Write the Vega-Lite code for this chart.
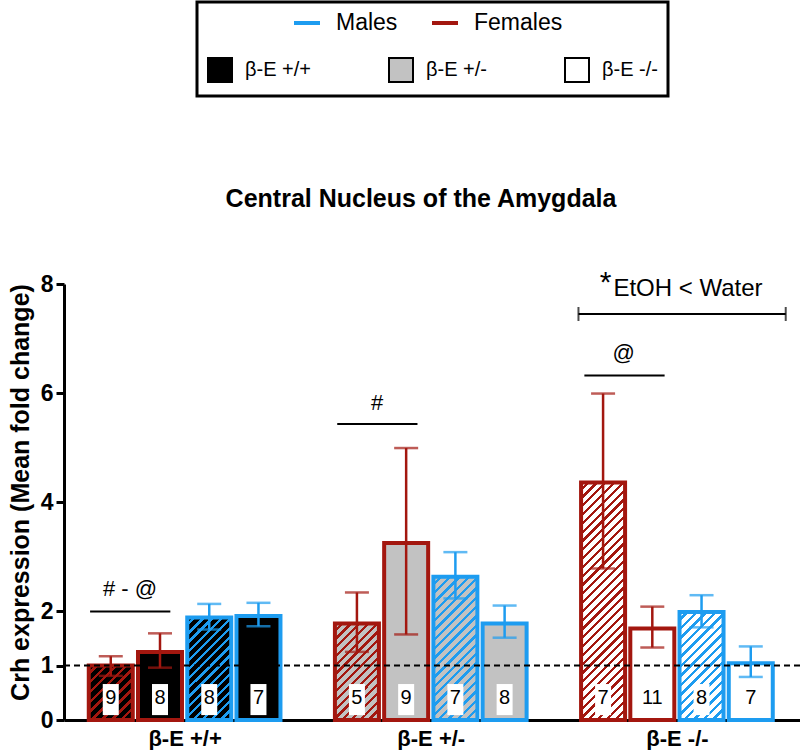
{
"$schema":"https://vega.github.io/schema/vega-lite/v6.json",
"width":736,"height":436,
"autosize":"none",
"padding":{"left":64,"top":284,"right":0,"bottom":30},
"title":{"text":"Central Nucleus of the Amygdala","fontSize":25,"fontWeight":"bold","color":"black","anchor":"middle","frame":"group","dx":-11,"baseline":"alphabetic","offset":-231},
"config":{"font":"Liberation Sans","view":{"stroke":null},"axis":{"grid":false}},
"datasets":{
"bars":[
{"geno":"β-E +/+","sex":"Females","trt":"EtOH","id":"A","pos":1,"mean":1.00,"lo":0.81,"hi":1.17,"n":9},
{"geno":"β-E +/+","sex":"Females","trt":"Water","id":"a","pos":2,"mean":1.25,"lo":0.96,"hi":1.59,"n":8},
{"geno":"β-E +/+","sex":"Males","trt":"EtOH","id":"B","pos":3,"mean":1.88,"lo":1.66,"hi":2.13,"n":8},
{"geno":"β-E +/+","sex":"Males","trt":"Water","id":"b","pos":4,"mean":1.91,"lo":1.72,"hi":2.15,"n":7},
{"geno":"β-E +/-","sex":"Females","trt":"EtOH","id":"C","pos":6,"mean":1.77,"lo":1.25,"hi":2.34,"n":5},
{"geno":"β-E +/-","sex":"Females","trt":"Water","id":"c","pos":7,"mean":3.25,"lo":1.57,"hi":4.99,"n":9},
{"geno":"β-E +/-","sex":"Males","trt":"EtOH","id":"D","pos":8,"mean":2.63,"lo":2.23,"hi":3.08,"n":7},
{"geno":"β-E +/-","sex":"Males","trt":"Water","id":"d","pos":9,"mean":1.77,"lo":1.51,"hi":2.10,"n":8},
{"geno":"β-E -/-","sex":"Females","trt":"EtOH","id":"E","pos":11,"mean":4.36,"lo":2.78,"hi":5.99,"n":7},
{"geno":"β-E -/-","sex":"Females","trt":"Water","id":"e","pos":12,"mean":1.68,"lo":1.33,"hi":2.08,"n":11},
{"geno":"β-E -/-","sex":"Males","trt":"EtOH","id":"F","pos":13,"mean":1.98,"lo":1.70,"hi":2.29,"n":8},
{"geno":"β-E -/-","sex":"Males","trt":"Water","id":"f","pos":14,"mean":1.04,"lo":0.79,"hi":1.35,"n":7}
],
"lines":[
{"x":0.58,"x2":2.21,"y":1.99},
{"x":5.60,"x2":7.23,"y":5.43},
{"x":10.62,"x2":12.25,"y":6.32},
{"x":10.50,"x2":14.71,"y":7.45}
],
"caps":[{"x":10.50,"y":7.45},{"x":14.71,"y":7.45}],
"notes":[
{"label":"# - @","x":1.39,"y":2.40},
{"label":"#","x":6.41,"y":5.82},
{"label":"@","x":11.42,"y":6.73}
]
},
"data":{"name":"bars"},
"layer":[
{"transform":[{"filter":"datum.trt=='Water'"}],
"mark":{"type":"bar","orient":"vertical","width":44,"strokeWidth":4},
"encoding":{
"x":{"field":"pos","type":"quantitative","scale":{"domain":[0.05,15],"nice":false,"zero":false,"padding":0},
"axis":{"values":[2.5,7.5,12.5],"labelExpr":"datum.value==2.5?'β-E +/+':datum.value==7.5?'β-E +/-':'β-E -/-'","title":null,"ticks":false,"domainColor":"black","domainWidth":3,"labelFontSize":22,"labelFontWeight":"bold","labelColor":"black","labelPadding":8,"labelFlush":false}},
"y":{"field":"mean","type":"quantitative","stack":null,"scale":{"domain":[0,8],"nice":false},
"axis":{"values":[0,1,2,4,6,8],"title":"Crh expression (Mean fold change)","titleFontSize":25,"titleFontWeight":"bold","titleColor":"black","titlePadding":7,"titleY":208,"labelFontSize":23,"labelFontWeight":"bold","labelColor":"black","labelPadding":3,"tickColor":"black","tickWidth":3,"tickSize":8,"domainColor":"black","domainWidth":3}},
"fill":{"field":"geno","type":"nominal","scale":{"domain":["β-E +/+","β-E +/-","β-E -/-"],"range":["#000000","#c2c2c2","#ffffff"]},
"legend":{"orient":"none","legendX":133,"legendY":-282,"direction":"horizontal","title":"\u00a0","titleFontSize":35,"titlePadding":10,"padding":10,"strokeColor":"black","symbolType":"square","symbolSize":576,"symbolStrokeColor":"black","symbolStrokeWidth":2,"labelFontSize":20,"labelColor":"black","labelOffset":12,"columnPadding":74,
"encode":{"legend":{"update":{"stroke":{"value":"black"},"strokeWidth":{"value":3}}},"symbols":{"update":{"stroke":{"value":"black"},"strokeWidth":{"value":2}}}}}},
"stroke":{"field":"sex","type":"nominal","scale":{"domain":["Males","Females"],"range":["#1d9cf0","#a3170f"]},
"legend":{"orient":"none","legendX":228,"legendY":-276,"direction":"horizontal","title":null,"padding":0,"symbolType":"stroke","symbolSize":676,"symbolStrokeWidth":4,"labelFontSize":23,"labelColor":"black","labelOffset":14,"columnPadding":26,
"encode":{"symbols":{"update":{"strokeWidth":{"value":4}}}}}}
}},
{"transform":[{"filter":"datum.id=='A'"}],
"mark":{"type":"bar","orient":"vertical","width":44,"strokeWidth":4,"stroke":"#a3170f",
"fill":{"gradient":"linear","x1":0,"y1":0,"x2":0.883,"y2":1.094,"stops":[
{"offset":0,"color":"#000"},{"offset":0.064,"color":"#000"},{"offset":0.064,"color":"#a3170f"},{"offset":0.1,"color":"#a3170f"},
{"offset":0.1,"color":"#000"},{"offset":0.164,"color":"#000"},{"offset":0.164,"color":"#a3170f"},{"offset":0.2,"color":"#a3170f"},
{"offset":0.2,"color":"#000"},{"offset":0.264,"color":"#000"},{"offset":0.264,"color":"#a3170f"},{"offset":0.3,"color":"#a3170f"},
{"offset":0.3,"color":"#000"},{"offset":0.364,"color":"#000"},{"offset":0.364,"color":"#a3170f"},{"offset":0.4,"color":"#a3170f"},
{"offset":0.4,"color":"#000"},{"offset":0.464,"color":"#000"},{"offset":0.464,"color":"#a3170f"},{"offset":0.5,"color":"#a3170f"},
{"offset":0.5,"color":"#000"},{"offset":0.564,"color":"#000"},{"offset":0.564,"color":"#a3170f"},{"offset":0.6,"color":"#a3170f"},
{"offset":0.6,"color":"#000"},{"offset":0.664,"color":"#000"},{"offset":0.664,"color":"#a3170f"},{"offset":0.7,"color":"#a3170f"},
{"offset":0.7,"color":"#000"},{"offset":0.764,"color":"#000"},{"offset":0.764,"color":"#a3170f"},{"offset":0.8,"color":"#a3170f"},
{"offset":0.8,"color":"#000"},{"offset":0.864,"color":"#000"},{"offset":0.864,"color":"#a3170f"},{"offset":0.9,"color":"#a3170f"},
{"offset":0.9,"color":"#000"},{"offset":0.964,"color":"#000"},{"offset":0.964,"color":"#a3170f"},{"offset":1,"color":"#a3170f"}]}},
"encoding":{"x":{"field":"pos","type":"quantitative"},"y":{"field":"mean","type":"quantitative"}}},
{"transform":[{"filter":"datum.id=='B'"}],
"mark":{"type":"bar","orient":"vertical","width":44,"strokeWidth":4,"stroke":"#1d9cf0",
"fill":{"gradient":"linear","x1":0,"y1":0,"x2":0.518,"y2":1.207,"stops":[
{"offset":0,"color":"#000"},{"offset":0.04,"color":"#000"},{"offset":0.04,"color":"#1d9cf0"},{"offset":0.0625,"color":"#1d9cf0"},
{"offset":0.0625,"color":"#000"},{"offset":0.1025,"color":"#000"},{"offset":0.1025,"color":"#1d9cf0"},{"offset":0.125,"color":"#1d9cf0"},
{"offset":0.125,"color":"#000"},{"offset":0.165,"color":"#000"},{"offset":0.165,"color":"#1d9cf0"},{"offset":0.1875,"color":"#1d9cf0"},
{"offset":0.1875,"color":"#000"},{"offset":0.2275,"color":"#000"},{"offset":0.2275,"color":"#1d9cf0"},{"offset":0.25,"color":"#1d9cf0"},
{"offset":0.25,"color":"#000"},{"offset":0.29,"color":"#000"},{"offset":0.29,"color":"#1d9cf0"},{"offset":0.3125,"color":"#1d9cf0"},
{"offset":0.3125,"color":"#000"},{"offset":0.3525,"color":"#000"},{"offset":0.3525,"color":"#1d9cf0"},{"offset":0.375,"color":"#1d9cf0"},
{"offset":0.375,"color":"#000"},{"offset":0.415,"color":"#000"},{"offset":0.415,"color":"#1d9cf0"},{"offset":0.4375,"color":"#1d9cf0"},
{"offset":0.4375,"color":"#000"},{"offset":0.4775,"color":"#000"},{"offset":0.4775,"color":"#1d9cf0"},{"offset":0.5,"color":"#1d9cf0"},
{"offset":0.5,"color":"#000"},{"offset":0.54,"color":"#000"},{"offset":0.54,"color":"#1d9cf0"},{"offset":0.5625,"color":"#1d9cf0"},
{"offset":0.5625,"color":"#000"},{"offset":0.6025,"color":"#000"},{"offset":0.6025,"color":"#1d9cf0"},{"offset":0.625,"color":"#1d9cf0"},
{"offset":0.625,"color":"#000"},{"offset":0.665,"color":"#000"},{"offset":0.665,"color":"#1d9cf0"},{"offset":0.6875,"color":"#1d9cf0"},
{"offset":0.6875,"color":"#000"},{"offset":0.7275,"color":"#000"},{"offset":0.7275,"color":"#1d9cf0"},{"offset":0.75,"color":"#1d9cf0"},
{"offset":0.75,"color":"#000"},{"offset":0.79,"color":"#000"},{"offset":0.79,"color":"#1d9cf0"},{"offset":0.8125,"color":"#1d9cf0"},
{"offset":0.8125,"color":"#000"},{"offset":0.8525,"color":"#000"},{"offset":0.8525,"color":"#1d9cf0"},{"offset":0.875,"color":"#1d9cf0"},
{"offset":0.875,"color":"#000"},{"offset":0.915,"color":"#000"},{"offset":0.915,"color":"#1d9cf0"},{"offset":0.9375,"color":"#1d9cf0"},
{"offset":0.9375,"color":"#000"},{"offset":0.9775,"color":"#000"},{"offset":0.9775,"color":"#1d9cf0"},{"offset":1,"color":"#1d9cf0"}]}},
"encoding":{"x":{"field":"pos","type":"quantitative"},"y":{"field":"mean","type":"quantitative"}}},
{"transform":[{"filter":"datum.id=='C'"}],
"mark":{"type":"bar","orient":"vertical","width":44,"strokeWidth":4,"stroke":"#a3170f",
"fill":{"gradient":"linear","x1":0,"y1":0,"x2":0.55,"y2":1.205,"stops":[
{"offset":0,"color":"#c2c2c2"},{"offset":0.04,"color":"#c2c2c2"},{"offset":0.04,"color":"#a3170f"},{"offset":0.0625,"color":"#a3170f"},
{"offset":0.0625,"color":"#c2c2c2"},{"offset":0.1025,"color":"#c2c2c2"},{"offset":0.1025,"color":"#a3170f"},{"offset":0.125,"color":"#a3170f"},
{"offset":0.125,"color":"#c2c2c2"},{"offset":0.165,"color":"#c2c2c2"},{"offset":0.165,"color":"#a3170f"},{"offset":0.1875,"color":"#a3170f"},
{"offset":0.1875,"color":"#c2c2c2"},{"offset":0.2275,"color":"#c2c2c2"},{"offset":0.2275,"color":"#a3170f"},{"offset":0.25,"color":"#a3170f"},
{"offset":0.25,"color":"#c2c2c2"},{"offset":0.29,"color":"#c2c2c2"},{"offset":0.29,"color":"#a3170f"},{"offset":0.3125,"color":"#a3170f"},
{"offset":0.3125,"color":"#c2c2c2"},{"offset":0.3525,"color":"#c2c2c2"},{"offset":0.3525,"color":"#a3170f"},{"offset":0.375,"color":"#a3170f"},
{"offset":0.375,"color":"#c2c2c2"},{"offset":0.415,"color":"#c2c2c2"},{"offset":0.415,"color":"#a3170f"},{"offset":0.4375,"color":"#a3170f"},
{"offset":0.4375,"color":"#c2c2c2"},{"offset":0.4775,"color":"#c2c2c2"},{"offset":0.4775,"color":"#a3170f"},{"offset":0.5,"color":"#a3170f"},
{"offset":0.5,"color":"#c2c2c2"},{"offset":0.54,"color":"#c2c2c2"},{"offset":0.54,"color":"#a3170f"},{"offset":0.5625,"color":"#a3170f"},
{"offset":0.5625,"color":"#c2c2c2"},{"offset":0.6025,"color":"#c2c2c2"},{"offset":0.6025,"color":"#a3170f"},{"offset":0.625,"color":"#a3170f"},
{"offset":0.625,"color":"#c2c2c2"},{"offset":0.665,"color":"#c2c2c2"},{"offset":0.665,"color":"#a3170f"},{"offset":0.6875,"color":"#a3170f"},
{"offset":0.6875,"color":"#c2c2c2"},{"offset":0.7275,"color":"#c2c2c2"},{"offset":0.7275,"color":"#a3170f"},{"offset":0.75,"color":"#a3170f"},
{"offset":0.75,"color":"#c2c2c2"},{"offset":0.79,"color":"#c2c2c2"},{"offset":0.79,"color":"#a3170f"},{"offset":0.8125,"color":"#a3170f"},
{"offset":0.8125,"color":"#c2c2c2"},{"offset":0.8525,"color":"#c2c2c2"},{"offset":0.8525,"color":"#a3170f"},{"offset":0.875,"color":"#a3170f"},
{"offset":0.875,"color":"#c2c2c2"},{"offset":0.915,"color":"#c2c2c2"},{"offset":0.915,"color":"#a3170f"},{"offset":0.9375,"color":"#a3170f"},
{"offset":0.9375,"color":"#c2c2c2"},{"offset":0.9775,"color":"#c2c2c2"},{"offset":0.9775,"color":"#a3170f"},{"offset":1,"color":"#a3170f"}]}},
"encoding":{"x":{"field":"pos","type":"quantitative"},"y":{"field":"mean","type":"quantitative"}}},
{"transform":[{"filter":"datum.id=='D'"}],
"mark":{"type":"bar","orient":"vertical","width":44,"strokeWidth":4,"stroke":"#1d9cf0",
"fill":{"gradient":"linear","x1":0,"y1":0,"x2":0.367,"y2":1.194,"stops":[
{"offset":0,"color":"#c2c2c2"},{"offset":0.032,"color":"#c2c2c2"},{"offset":0.032,"color":"#1d9cf0"},{"offset":0.05,"color":"#1d9cf0"},
{"offset":0.05,"color":"#c2c2c2"},{"offset":0.082,"color":"#c2c2c2"},{"offset":0.082,"color":"#1d9cf0"},{"offset":0.1,"color":"#1d9cf0"},
{"offset":0.1,"color":"#c2c2c2"},{"offset":0.132,"color":"#c2c2c2"},{"offset":0.132,"color":"#1d9cf0"},{"offset":0.15,"color":"#1d9cf0"},
{"offset":0.15,"color":"#c2c2c2"},{"offset":0.182,"color":"#c2c2c2"},{"offset":0.182,"color":"#1d9cf0"},{"offset":0.2,"color":"#1d9cf0"},
{"offset":0.2,"color":"#c2c2c2"},{"offset":0.232,"color":"#c2c2c2"},{"offset":0.232,"color":"#1d9cf0"},{"offset":0.25,"color":"#1d9cf0"},
{"offset":0.25,"color":"#c2c2c2"},{"offset":0.282,"color":"#c2c2c2"},{"offset":0.282,"color":"#1d9cf0"},{"offset":0.3,"color":"#1d9cf0"},
{"offset":0.3,"color":"#c2c2c2"},{"offset":0.332,"color":"#c2c2c2"},{"offset":0.332,"color":"#1d9cf0"},{"offset":0.35,"color":"#1d9cf0"},
{"offset":0.35,"color":"#c2c2c2"},{"offset":0.382,"color":"#c2c2c2"},{"offset":0.382,"color":"#1d9cf0"},{"offset":0.4,"color":"#1d9cf0"},
{"offset":0.4,"color":"#c2c2c2"},{"offset":0.432,"color":"#c2c2c2"},{"offset":0.432,"color":"#1d9cf0"},{"offset":0.45,"color":"#1d9cf0"},
{"offset":0.45,"color":"#c2c2c2"},{"offset":0.482,"color":"#c2c2c2"},{"offset":0.482,"color":"#1d9cf0"},{"offset":0.5,"color":"#1d9cf0"},
{"offset":0.5,"color":"#c2c2c2"},{"offset":0.532,"color":"#c2c2c2"},{"offset":0.532,"color":"#1d9cf0"},{"offset":0.55,"color":"#1d9cf0"},
{"offset":0.55,"color":"#c2c2c2"},{"offset":0.582,"color":"#c2c2c2"},{"offset":0.582,"color":"#1d9cf0"},{"offset":0.6,"color":"#1d9cf0"},
{"offset":0.6,"color":"#c2c2c2"},{"offset":0.632,"color":"#c2c2c2"},{"offset":0.632,"color":"#1d9cf0"},{"offset":0.65,"color":"#1d9cf0"},
{"offset":0.65,"color":"#c2c2c2"},{"offset":0.682,"color":"#c2c2c2"},{"offset":0.682,"color":"#1d9cf0"},{"offset":0.7,"color":"#1d9cf0"},
{"offset":0.7,"color":"#c2c2c2"},{"offset":0.732,"color":"#c2c2c2"},{"offset":0.732,"color":"#1d9cf0"},{"offset":0.75,"color":"#1d9cf0"},
{"offset":0.75,"color":"#c2c2c2"},{"offset":0.782,"color":"#c2c2c2"},{"offset":0.782,"color":"#1d9cf0"},{"offset":0.8,"color":"#1d9cf0"},
{"offset":0.8,"color":"#c2c2c2"},{"offset":0.832,"color":"#c2c2c2"},{"offset":0.832,"color":"#1d9cf0"},{"offset":0.85,"color":"#1d9cf0"},
{"offset":0.85,"color":"#c2c2c2"},{"offset":0.882,"color":"#c2c2c2"},{"offset":0.882,"color":"#1d9cf0"},{"offset":0.9,"color":"#1d9cf0"},
{"offset":0.9,"color":"#c2c2c2"},{"offset":0.932,"color":"#c2c2c2"},{"offset":0.932,"color":"#1d9cf0"},{"offset":0.95,"color":"#1d9cf0"},
{"offset":0.95,"color":"#c2c2c2"},{"offset":0.982,"color":"#c2c2c2"},{"offset":0.982,"color":"#1d9cf0"},{"offset":1,"color":"#1d9cf0"}]}},
"encoding":{"x":{"field":"pos","type":"quantitative"},"y":{"field":"mean","type":"quantitative"}}},
{"transform":[{"filter":"datum.id=='E'"}],
"mark":{"type":"bar","orient":"vertical","width":44,"strokeWidth":4,"stroke":"#a3170f",
"fill":{"gradient":"linear","x1":0,"y1":0,"x2":0.212,"y2":1.146,"stops":[
{"offset":0,"color":"#fff"},{"offset":0.02,"color":"#fff"},{"offset":0.02,"color":"#a3170f"},{"offset":0.03125,"color":"#a3170f"},
{"offset":0.03125,"color":"#fff"},{"offset":0.05125,"color":"#fff"},{"offset":0.05125,"color":"#a3170f"},{"offset":0.0625,"color":"#a3170f"},
{"offset":0.0625,"color":"#fff"},{"offset":0.0825,"color":"#fff"},{"offset":0.0825,"color":"#a3170f"},{"offset":0.09375,"color":"#a3170f"},
{"offset":0.09375,"color":"#fff"},{"offset":0.11375,"color":"#fff"},{"offset":0.11375,"color":"#a3170f"},{"offset":0.125,"color":"#a3170f"},
{"offset":0.125,"color":"#fff"},{"offset":0.145,"color":"#fff"},{"offset":0.145,"color":"#a3170f"},{"offset":0.15625,"color":"#a3170f"},
{"offset":0.15625,"color":"#fff"},{"offset":0.17625,"color":"#fff"},{"offset":0.17625,"color":"#a3170f"},{"offset":0.1875,"color":"#a3170f"},
{"offset":0.1875,"color":"#fff"},{"offset":0.2075,"color":"#fff"},{"offset":0.2075,"color":"#a3170f"},{"offset":0.21875,"color":"#a3170f"},
{"offset":0.21875,"color":"#fff"},{"offset":0.23875,"color":"#fff"},{"offset":0.23875,"color":"#a3170f"},{"offset":0.25,"color":"#a3170f"},
{"offset":0.25,"color":"#fff"},{"offset":0.27,"color":"#fff"},{"offset":0.27,"color":"#a3170f"},{"offset":0.28125,"color":"#a3170f"},
{"offset":0.28125,"color":"#fff"},{"offset":0.30125,"color":"#fff"},{"offset":0.30125,"color":"#a3170f"},{"offset":0.3125,"color":"#a3170f"},
{"offset":0.3125,"color":"#fff"},{"offset":0.3325,"color":"#fff"},{"offset":0.3325,"color":"#a3170f"},{"offset":0.34375,"color":"#a3170f"},
{"offset":0.34375,"color":"#fff"},{"offset":0.36375,"color":"#fff"},{"offset":0.36375,"color":"#a3170f"},{"offset":0.375,"color":"#a3170f"},
{"offset":0.375,"color":"#fff"},{"offset":0.395,"color":"#fff"},{"offset":0.395,"color":"#a3170f"},{"offset":0.40625,"color":"#a3170f"},
{"offset":0.40625,"color":"#fff"},{"offset":0.42625,"color":"#fff"},{"offset":0.42625,"color":"#a3170f"},{"offset":0.4375,"color":"#a3170f"},
{"offset":0.4375,"color":"#fff"},{"offset":0.4575,"color":"#fff"},{"offset":0.4575,"color":"#a3170f"},{"offset":0.46875,"color":"#a3170f"},
{"offset":0.46875,"color":"#fff"},{"offset":0.48875,"color":"#fff"},{"offset":0.48875,"color":"#a3170f"},{"offset":0.5,"color":"#a3170f"},
{"offset":0.5,"color":"#fff"},{"offset":0.52,"color":"#fff"},{"offset":0.52,"color":"#a3170f"},{"offset":0.53125,"color":"#a3170f"},
{"offset":0.53125,"color":"#fff"},{"offset":0.55125,"color":"#fff"},{"offset":0.55125,"color":"#a3170f"},{"offset":0.5625,"color":"#a3170f"},
{"offset":0.5625,"color":"#fff"},{"offset":0.5825,"color":"#fff"},{"offset":0.5825,"color":"#a3170f"},{"offset":0.59375,"color":"#a3170f"},
{"offset":0.59375,"color":"#fff"},{"offset":0.61375,"color":"#fff"},{"offset":0.61375,"color":"#a3170f"},{"offset":0.625,"color":"#a3170f"},
{"offset":0.625,"color":"#fff"},{"offset":0.645,"color":"#fff"},{"offset":0.645,"color":"#a3170f"},{"offset":0.65625,"color":"#a3170f"},
{"offset":0.65625,"color":"#fff"},{"offset":0.67625,"color":"#fff"},{"offset":0.67625,"color":"#a3170f"},{"offset":0.6875,"color":"#a3170f"},
{"offset":0.6875,"color":"#fff"},{"offset":0.7075,"color":"#fff"},{"offset":0.7075,"color":"#a3170f"},{"offset":0.71875,"color":"#a3170f"},
{"offset":0.71875,"color":"#fff"},{"offset":0.73875,"color":"#fff"},{"offset":0.73875,"color":"#a3170f"},{"offset":0.75,"color":"#a3170f"},
{"offset":0.75,"color":"#fff"},{"offset":0.77,"color":"#fff"},{"offset":0.77,"color":"#a3170f"},{"offset":0.78125,"color":"#a3170f"},
{"offset":0.78125,"color":"#fff"},{"offset":0.80125,"color":"#fff"},{"offset":0.80125,"color":"#a3170f"},{"offset":0.8125,"color":"#a3170f"},
{"offset":0.8125,"color":"#fff"},{"offset":0.8325,"color":"#fff"},{"offset":0.8325,"color":"#a3170f"},{"offset":0.84375,"color":"#a3170f"},
{"offset":0.84375,"color":"#fff"},{"offset":0.86375,"color":"#fff"},{"offset":0.86375,"color":"#a3170f"},{"offset":0.875,"color":"#a3170f"},
{"offset":0.875,"color":"#fff"},{"offset":0.895,"color":"#fff"},{"offset":0.895,"color":"#a3170f"},{"offset":0.90625,"color":"#a3170f"},
{"offset":0.90625,"color":"#fff"},{"offset":0.92625,"color":"#fff"},{"offset":0.92625,"color":"#a3170f"},{"offset":0.9375,"color":"#a3170f"},
{"offset":0.9375,"color":"#fff"},{"offset":0.9575,"color":"#fff"},{"offset":0.9575,"color":"#a3170f"},{"offset":0.96875,"color":"#a3170f"},
{"offset":0.96875,"color":"#fff"},{"offset":0.98875,"color":"#fff"},{"offset":0.98875,"color":"#a3170f"},{"offset":1,"color":"#a3170f"}]}},
"encoding":{"x":{"field":"pos","type":"quantitative"},"y":{"field":"mean","type":"quantitative"}}},
{"transform":[{"filter":"datum.id=='F'"}],
"mark":{"type":"bar","orient":"vertical","width":44,"strokeWidth":4,"stroke":"#1d9cf0",
"fill":{"gradient":"linear","x1":0,"y1":0,"x2":0.492,"y2":1.207,"stops":[
{"offset":0,"color":"#fff"},{"offset":0.04,"color":"#fff"},{"offset":0.04,"color":"#1d9cf0"},{"offset":0.0625,"color":"#1d9cf0"},
{"offset":0.0625,"color":"#fff"},{"offset":0.1025,"color":"#fff"},{"offset":0.1025,"color":"#1d9cf0"},{"offset":0.125,"color":"#1d9cf0"},
{"offset":0.125,"color":"#fff"},{"offset":0.165,"color":"#fff"},{"offset":0.165,"color":"#1d9cf0"},{"offset":0.1875,"color":"#1d9cf0"},
{"offset":0.1875,"color":"#fff"},{"offset":0.2275,"color":"#fff"},{"offset":0.2275,"color":"#1d9cf0"},{"offset":0.25,"color":"#1d9cf0"},
{"offset":0.25,"color":"#fff"},{"offset":0.29,"color":"#fff"},{"offset":0.29,"color":"#1d9cf0"},{"offset":0.3125,"color":"#1d9cf0"},
{"offset":0.3125,"color":"#fff"},{"offset":0.3525,"color":"#fff"},{"offset":0.3525,"color":"#1d9cf0"},{"offset":0.375,"color":"#1d9cf0"},
{"offset":0.375,"color":"#fff"},{"offset":0.415,"color":"#fff"},{"offset":0.415,"color":"#1d9cf0"},{"offset":0.4375,"color":"#1d9cf0"},
{"offset":0.4375,"color":"#fff"},{"offset":0.4775,"color":"#fff"},{"offset":0.4775,"color":"#1d9cf0"},{"offset":0.5,"color":"#1d9cf0"},
{"offset":0.5,"color":"#fff"},{"offset":0.54,"color":"#fff"},{"offset":0.54,"color":"#1d9cf0"},{"offset":0.5625,"color":"#1d9cf0"},
{"offset":0.5625,"color":"#fff"},{"offset":0.6025,"color":"#fff"},{"offset":0.6025,"color":"#1d9cf0"},{"offset":0.625,"color":"#1d9cf0"},
{"offset":0.625,"color":"#fff"},{"offset":0.665,"color":"#fff"},{"offset":0.665,"color":"#1d9cf0"},{"offset":0.6875,"color":"#1d9cf0"},
{"offset":0.6875,"color":"#fff"},{"offset":0.7275,"color":"#fff"},{"offset":0.7275,"color":"#1d9cf0"},{"offset":0.75,"color":"#1d9cf0"},
{"offset":0.75,"color":"#fff"},{"offset":0.79,"color":"#fff"},{"offset":0.79,"color":"#1d9cf0"},{"offset":0.8125,"color":"#1d9cf0"},
{"offset":0.8125,"color":"#fff"},{"offset":0.8525,"color":"#fff"},{"offset":0.8525,"color":"#1d9cf0"},{"offset":0.875,"color":"#1d9cf0"},
{"offset":0.875,"color":"#fff"},{"offset":0.915,"color":"#fff"},{"offset":0.915,"color":"#1d9cf0"},{"offset":0.9375,"color":"#1d9cf0"},
{"offset":0.9375,"color":"#fff"},{"offset":0.9775,"color":"#fff"},{"offset":0.9775,"color":"#1d9cf0"},{"offset":1,"color":"#1d9cf0"}]}},
"encoding":{"x":{"field":"pos","type":"quantitative"},"y":{"field":"mean","type":"quantitative"}}},
{"data":{"values":[{}]},
"mark":{"type":"rule","strokeDash":[6,4],"strokeWidth":2,"color":"black"},
"encoding":{"y":{"datum":1}}},
{"mark":{"type":"rule","strokeWidth":2.5},
"encoding":{"x":{"field":"pos","type":"quantitative"},"y":{"field":"lo","type":"quantitative"},"y2":{"field":"hi"},
"color":{"field":"sex","type":"nominal","scale":{"domain":["Males","Females"],"range":["#1d9cf0","#a3170f"]},"legend":null}}},
{"mark":{"type":"tick","orient":"horizontal","size":24,"thickness":2.5},
"encoding":{"x":{"field":"pos","type":"quantitative"},"y":{"field":"lo","type":"quantitative"},
"color":{"field":"sex","type":"nominal","legend":null}}},
{"mark":{"type":"tick","orient":"horizontal","size":24,"thickness":2.5},
"encoding":{"x":{"field":"pos","type":"quantitative"},"y":{"field":"hi","type":"quantitative"},
"color":{"field":"sex","type":"nominal","legend":null}}},
{"mark":{"type":"bar","orient":"vertical","width":16,"fill":"white","strokeWidth":0},
"encoding":{"x":{"field":"pos","type":"quantitative"},"y":{"datum":0.09},"y2":{"datum":0.66}}},
{"mark":{"type":"text","fontSize":20,"baseline":"middle","align":"center","color":"black"},
"encoding":{"x":{"field":"pos","type":"quantitative"},"y":{"datum":0.40},"text":{"field":"n"}}},
{"data":{"name":"lines"},
"mark":{"type":"rule","strokeWidth":2,"color":"black"},
"encoding":{"x":{"field":"x","type":"quantitative"},"x2":{"field":"x2"},"y":{"field":"y","type":"quantitative"}}},
{"data":{"name":"caps"},
"mark":{"type":"tick","orient":"vertical","size":14,"thickness":2,"color":"black"},
"encoding":{"x":{"field":"x","type":"quantitative"},"y":{"field":"y","type":"quantitative"}}},
{"data":{"name":"notes"},
"mark":{"type":"text","fontSize":22,"baseline":"middle","align":"center","color":"black"},
"encoding":{"x":{"field":"x","type":"quantitative"},"y":{"field":"y","type":"quantitative"},"text":{"field":"label"}}},
{"data":{"values":[{"label":"*","x":11.05,"y":7.85}]},
"mark":{"type":"text","fontSize":30,"baseline":"alphabetic","align":"center","color":"black"},
"encoding":{"x":{"field":"x","type":"quantitative"},"y":{"field":"y","type":"quantitative"},"text":{"field":"label"}}},
{"data":{"values":[{"label":"EtOH < Water","x":11.21,"y":7.78}]},
"mark":{"type":"text","fontSize":24,"baseline":"alphabetic","align":"left","color":"black"},
"encoding":{"x":{"field":"x","type":"quantitative"},"y":{"field":"y","type":"quantitative"},"text":{"field":"label"}}}
]
}
